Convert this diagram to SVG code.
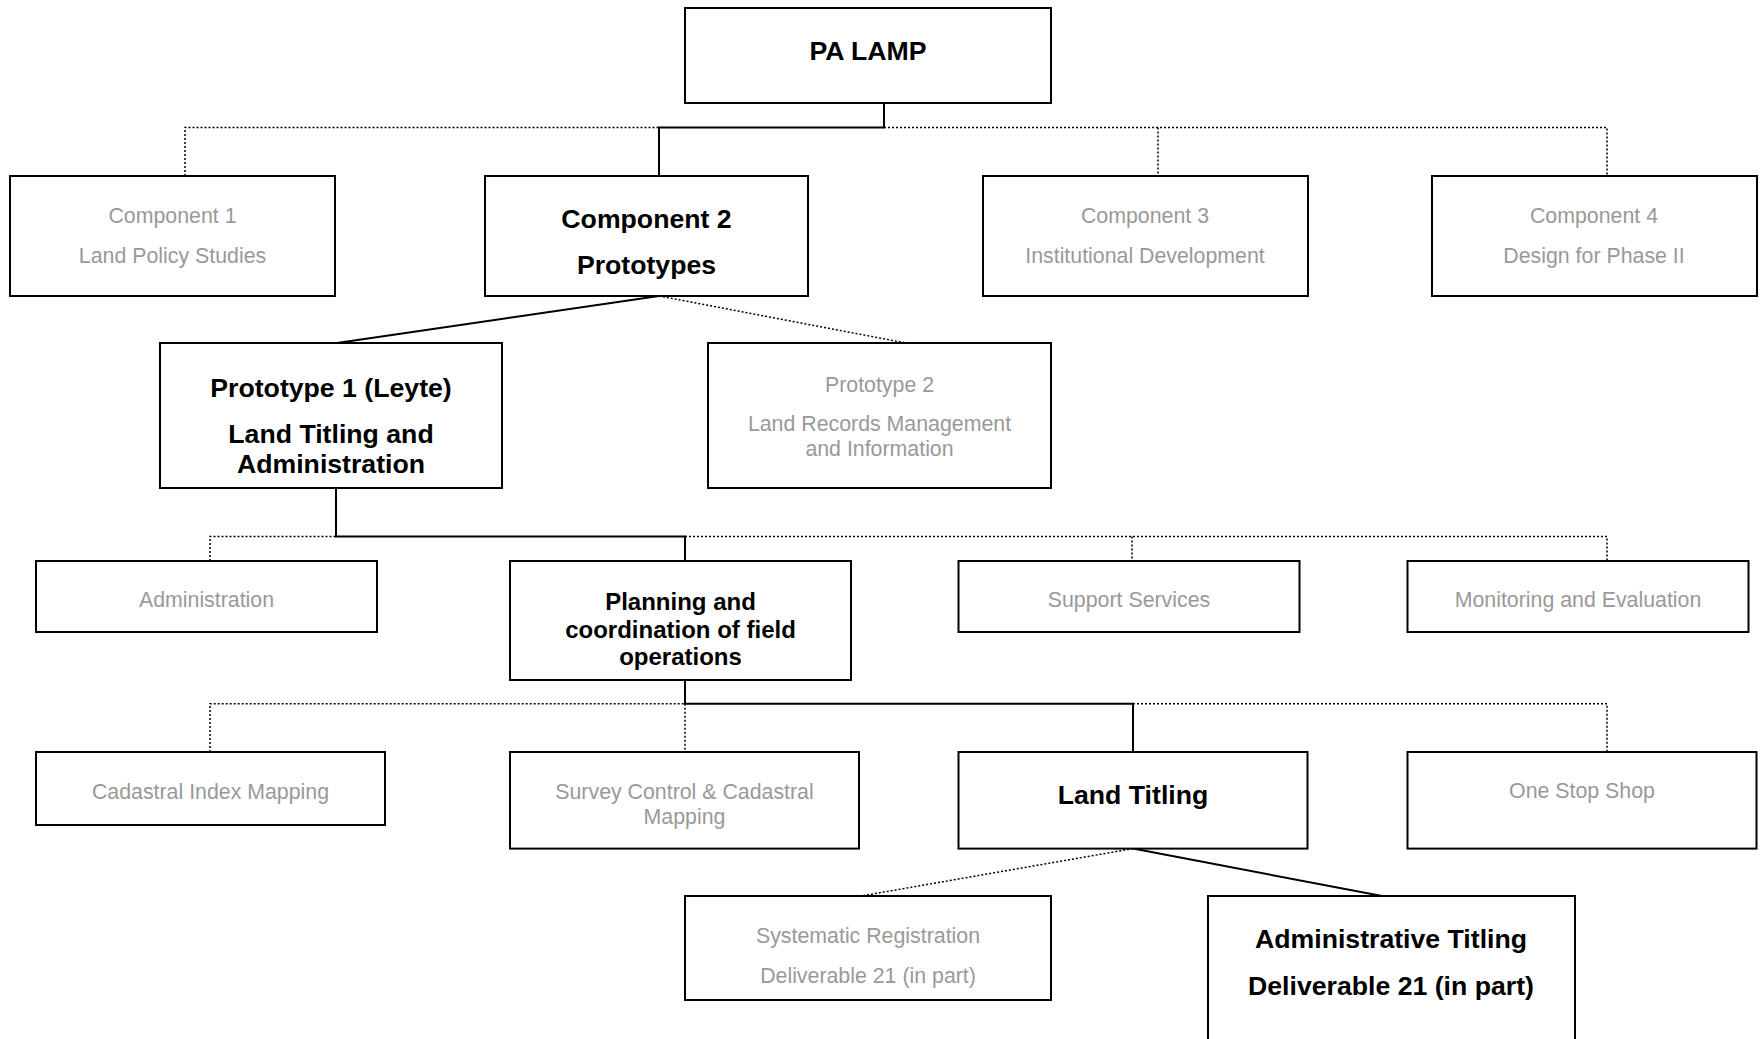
<svg xmlns="http://www.w3.org/2000/svg" width="1760" height="1039" viewBox="0 0 1760 1039">
<style>
.box{fill:#fff;stroke:#000;stroke-width:2}
.b{font-family:"Liberation Sans",Arial,sans-serif;font-weight:bold;font-size:26.67px;fill:#000;text-anchor:middle}
.b2{font-family:"Liberation Sans",Arial,sans-serif;font-weight:bold;font-size:24px;fill:#000;text-anchor:middle}
.g{font-family:"Liberation Sans",Arial,sans-serif;font-size:21.33px;fill:#999;text-anchor:middle}
.s{fill:none;stroke:#000;stroke-width:2}
.d{fill:none;stroke:#000;stroke-width:1.5;stroke-dasharray:2 2}
</style>
<rect width="1760" height="1039" fill="#fff"/>
<g id="connectors">
<path class="d" d="M185,176 V127.5 H659 M884,127.5 H1607 V176 M1158,127.5 V176"/>
<path class="s" d="M884,103 V127.5 H659 V176"/>
<path class="s" d="M659,296 L337,343"/>
<path class="d" d="M659,296 L906,343"/>
<path class="d" d="M210,561 V536.5 H336 M685,536.5 H1607 V561 M1132,536.5 V561"/>
<path class="s" d="M336,488 V536.5 H685 V561"/>
<path class="d" d="M210,752 V703.7 H685 M1133,703.7 H1607 V752 M685,703.7 V752"/>
<path class="s" d="M685,680 V703.7 H1133 V752"/>
<path class="d" d="M1133,848.6 L861,896"/>
<path class="s" d="M1133,848.6 L1382,896"/>
</g>
<g id="pa-lamp"><rect class="box" x="685" y="8" width="366" height="95"/><text class="b" x="868" y="60">PA LAMP</text></g>
<g id="component-1"><rect class="box" x="10" y="176" width="325" height="120"/><text class="g" x="172.5" y="223">Component 1</text><text class="g" x="172.5" y="263">Land Policy Studies</text></g>
<g id="component-2"><rect class="box" x="485" y="176" width="323" height="120"/><text class="b" x="646.5" y="228">Component 2</text><text class="b" x="646.5" y="274">Prototypes</text></g>
<g id="component-3"><rect class="box" x="983" y="176" width="325" height="120"/><text class="g" x="1145" y="223">Component 3</text><text class="g" x="1145" y="263">Institutional Development</text></g>
<g id="component-4"><rect class="box" x="1432" y="176" width="325" height="120"/><text class="g" x="1594" y="223">Component 4</text><text class="g" x="1594" y="263">Design for Phase II</text></g>
<g id="prototype-1"><rect class="box" x="160" y="343" width="342" height="145"/><text class="b" x="331" y="396.5">Prototype 1 (Leyte)</text><text class="b" x="331" y="443">Land Titling and</text><text class="b" x="331" y="473">Administration</text></g>
<g id="prototype-2"><rect class="box" x="708" y="343" width="343" height="145"/><text class="g" x="879.5" y="391.5">Prototype 2</text><text class="g" x="879.5" y="431">Land Records Management</text><text class="g" x="879.5" y="455.5">and Information</text></g>
<g id="administration"><rect class="box" x="36" y="561" width="341" height="71"/><text class="g" x="206.5" y="607">Administration</text></g>
<g id="planning"><rect class="box" x="510" y="561" width="341" height="119"/><text class="b2" x="680.5" y="610">Planning and</text><text class="b2" x="680.5" y="637.5">coordination of field</text><text class="b2" x="680.5" y="665">operations</text></g>
<g id="support-services"><rect class="box" x="958.5" y="561" width="341" height="71"/><text class="g" x="1129" y="607">Support Services</text></g>
<g id="monitoring"><rect class="box" x="1407.5" y="561" width="341" height="71"/><text class="g" x="1578" y="607">Monitoring and Evaluation</text></g>
<g id="cadastral-index"><rect class="box" x="36" y="752" width="349" height="73"/><text class="g" x="210.5" y="799">Cadastral Index Mapping</text></g>
<g id="survey-control"><rect class="box" x="510" y="752" width="349" height="96.6"/><text class="g" x="684.5" y="799">Survey Control &amp; Cadastral</text><text class="g" x="684.5" y="823.6">Mapping</text></g>
<g id="land-titling"><rect class="box" x="958.5" y="752" width="349" height="96.6"/><text class="b" x="1133" y="804">Land Titling</text></g>
<g id="one-stop-shop"><rect class="box" x="1407.5" y="752" width="349" height="96.6"/><text class="g" x="1582" y="798">One Stop Shop</text></g>
<g id="systematic-registration"><rect class="box" x="685" y="896" width="366" height="104"/><text class="g" x="868" y="942.5">Systematic Registration</text><text class="g" x="868" y="983">Deliverable 21 (in part)</text></g>
<g id="administrative-titling"><rect class="box" x="1208" y="896" width="367" height="160"/><text class="b" x="1391" y="948">Administrative Titling</text><text class="b" x="1391" y="995">Deliverable 21 (in part)</text></g>
</svg>
